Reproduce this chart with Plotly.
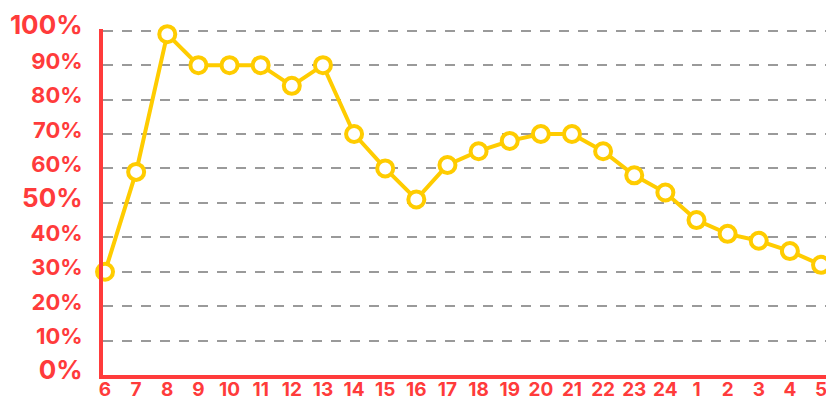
import plotly.graph_objects as go

hours = ["6", "7", "8", "9", "10", "11", "12", "13", "14", "15", "16", "17",
         "18", "19", "20", "21", "22", "23", "24", "1", "2", "3", "4", "5"]
values = [30, 59, 99, 90, 90, 90, 84, 90, 70, 60, 51, 61,
          65, 68, 70, 70, 65, 58, 53, 45, 41, 39, 36, 32]
y_ticks = [0, 10, 20, 30, 40, 50, 60, 70, 80, 90, 100]
big_ticks = [0, 50, 100]

RED = "#FF3B3B"
YELLOW = "#FFCC00"
FONT = "Inter"

ticktext = []
for v in y_ticks:
    if v in big_ticks:
        ticktext.append(f'<span style="font-size:26px">{v}%</span>')
    else:
        ticktext.append(f"{v}%")

fig = go.Figure()
fig.add_trace(go.Scatter(
    x=hours, y=values, mode="lines+markers",
    line=dict(color=YELLOW, width=4),
    marker=dict(size=16, color="white", line=dict(color=YELLOW, width=4)),
    cliponaxis=False, hoverinfo="skip",
))

fig.update_layout(
    width=826, height=401,
    margin=dict(l=103, r=0, t=29, b=26),
    paper_bgcolor="white", plot_bgcolor="white",
    showlegend=False,
    font=dict(family=FONT, color=RED),
)
fig.update_xaxes(
    type="category", automargin=False,
    range=[-0.065, 23.16],
    showgrid=False, zeroline=False,
    showline=True, linecolor=RED, linewidth=4,
    ticks="", ticklabelstandoff=-6,
    tickfont=dict(family=FONT, size=19, color=RED, weight="bold"),
)
fig.update_yaxes(
    automargin=False,
    range=[0, 100.5],
    tickvals=y_ticks, ticktext=ticktext,
    showgrid=True, gridcolor="#9a9a9a", gridwidth=1.5, griddash="10px,9px",
    zeroline=False,
    showline=True, linecolor=RED, linewidth=4,
    ticks="", ticklabelstandoff=12, ticklabelshift=-4,
    tickfont=dict(family=FONT, size=22, color=RED, weight="bold"),
)

fig.write_html("out.html",
               config={"displayModeBar": False},
               post_script="document.body.style.margin='0';document.body.style.overflow='hidden';")
